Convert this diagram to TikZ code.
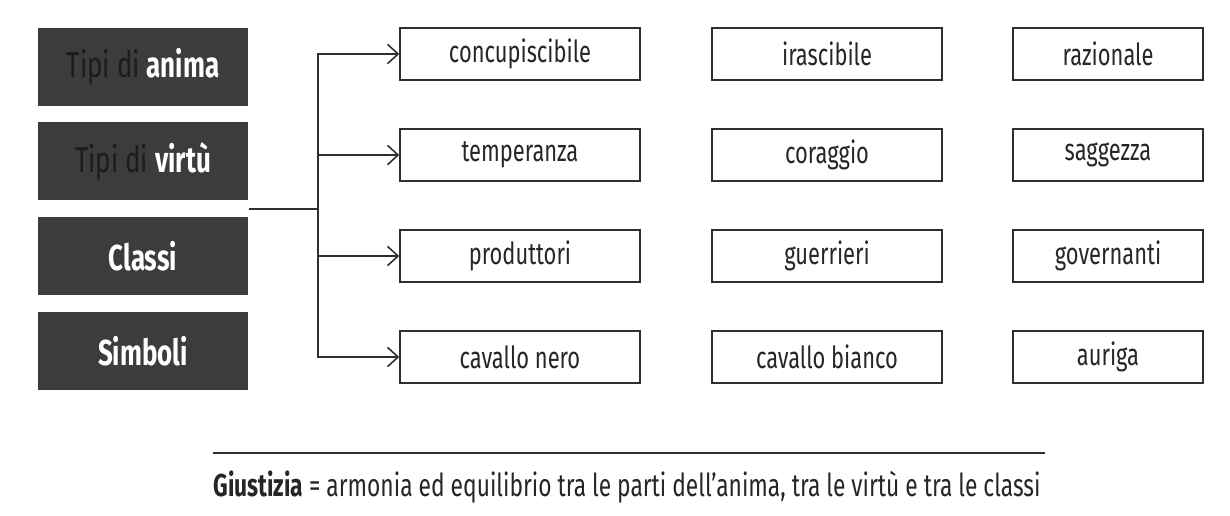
\documentclass[tikz,border=0pt]{standalone}
\usepackage{fontspec}
\setmainfont{Fira Sans}[FakeStretch=0.72]
\usepackage{tikz}
\usetikzlibrary{arrows.meta,positioning,fit,calc}

\definecolor{boxdark}{HTML}{3C3C3C}
\definecolor{tipitext}{HTML}{1C1C1C}
\definecolor{inkline}{HTML}{2E2E2E}

\begin{document}
\begin{tikzpicture}[
    x=0.02cm,
    y=-0.02cm,
    category/.style={
        rectangle,
        fill=boxdark,
        text=white,
        minimum width=4.22cm,
        minimum height=1.56cm,
        inner sep=0pt,
        font=\fontsize{20.5}{24}\selectfont
    },
    item/.style={
        rectangle,
        draw=inkline,
        line width=0.9pt,
        fill=white,
        text=black!85,
        minimum height=1.04cm,
        inner sep=0pt,
        font=\fontsize{17.3}{20}\selectfont
    },
    line/.style={
        draw=inkline,
        line width=0.8pt,
        -{Straight Barb[length=6pt,width=11pt,line width=0.9pt]}
    }
]
\useasboundingbox (0,0) rectangle (1230,515);

% Nodes
\node [category] (anima)   at (143,67)  {\textcolor{tipitext}{Tipi di} \textbf{anima}};
\node [category] (virtu)   at (143,161) {\textcolor{tipitext}{Tipi di} \textbf{virtù}};
\node [category] (classi)  at (143,256) {\textbf{Classi}};
\node [category] (simboli) at (143,351) {\textbf{Simboli}};
\node [fit=(anima)(simboli), inner sep=0pt] (cats) {};

\node [item, minimum width=4.8cm]  (concupiscibile) at (520,54)  {concupiscibile};
\node [item, minimum width=4.6cm]  (irascibile)     at (827,54)  {irascibile};
\node [item, minimum width=3.8cm]  (razionale)      at (1108,54) {razionale};

\node [item, minimum width=4.8cm]  (temperanza)     at (520,155)  {temperanza};
\node [item, minimum width=4.6cm]  (coraggio)       at (827,155)  {coraggio};
\node [item, minimum width=3.8cm]  (saggezza)       at (1108,155) {saggezza};

\node [item, minimum width=4.8cm]  (produttori)     at (520,256)  {produttori};
\node [item, minimum width=4.6cm]  (guerrieri)      at (827,256)  {guerrieri};
\node [item, minimum width=3.8cm]  (governanti)     at (1108,256) {governanti};

\node [item, minimum width=4.8cm]  (nero)           at (520,357)  {cavallo nero};
\node [item, minimum width=4.6cm]  (bianco)         at (827,357)  {cavallo bianco};
\node [item, minimum width=3.8cm]  (auriga)         at (1108,357) {auriga};

\coordinate [right=1.38cm of cats.east] (split);

% Edges
\draw [draw=inkline, line width=0.8pt] (cats.east) -- (split);
\path [line] (split) |- (concupiscibile.west);
\path [line] (split) |- (temperanza.west);
\path [line] (split) |- (produttori.west);
\path [line] (split) |- (nero.west);

% Giustizia
\coordinate (ruleL) at (213,453);
\coordinate (ruleR) at (1045,453);
\draw [draw=inkline, line width=1pt] (ruleL) -- (ruleR);
\node [anchor=west, inner sep=0pt, text=black!85, font=\fontsize{18}{21}\selectfont]
    (giustizia) at (213,487)
    {\textbf{Giustizia} = armonia ed equilibrio tra le parti dell’anima, tra le virtù e tra le classi};

\end{tikzpicture}
\end{document}
